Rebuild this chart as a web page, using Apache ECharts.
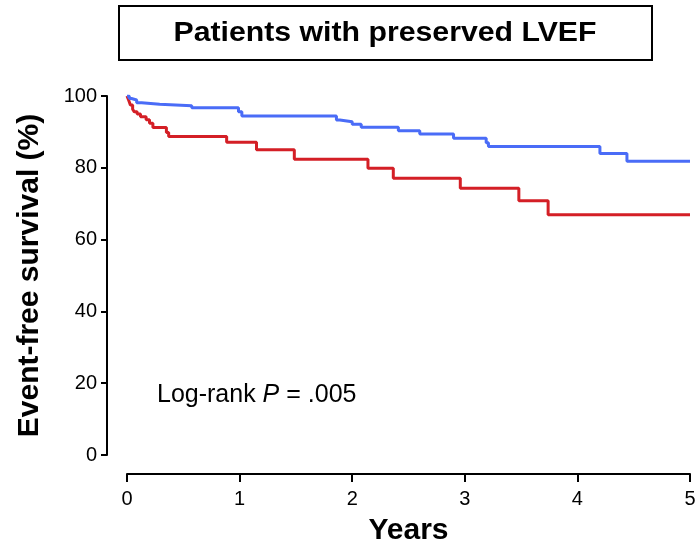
<!DOCTYPE html>
<html>
<head>
<meta charset="utf-8">
<script src="https://cdn.jsdelivr.net/npm/echarts@6/dist/echarts.min.js"></script>
<style>
  html, body { margin: 0; padding: 0; background: #fff; }
  #chart { width: 697px; height: 546px; }
</style>
</head>
<body>
<div id="chart"></div>
<script>
// Kaplan-Meier event-free survival, patients with preserved LVEF
// Each pair is [years, survival %]; the value holds until the next time point.
const blueTimes  = [0, 0.02, 0.04, 0.086, 0.13, 0.29, 0.575, 0.99, 1.02, 1.86, 1.89, 2.0, 2.08, 2.41, 2.60, 2.90, 3.19, 3.21, 4.20, 4.44, 5.0];
const blueValues = [100, 99.3, 98.9, 98.1, 97.7, 97.3, 96.7, 95.6, 94.4, 93.3, 92.8, 92.1, 91.3, 90.3, 89.4, 88.2, 87.0, 85.9, 84.0, 81.8, 81.8];

const redTimes  = [0, 0.015, 0.03, 0.05, 0.065, 0.09, 0.12, 0.17, 0.2, 0.23, 0.35, 0.37, 0.885, 1.15, 1.486, 2.14, 2.365, 2.96, 3.48, 3.74, 5.0];
const redValues = [100, 98.8, 97.5, 96.3, 95.6, 95.0, 94.2, 93.4, 92.4, 91.2, 89.8, 88.7, 87.1, 85.0, 82.4, 79.9, 77.1, 74.3, 70.8, 66.9, 66.9];

const xTicks = [0, 1, 2, 3, 4, 5];
const yTicks = [0, 20, 40, 60, 80, 100];

const titleText = 'Patients with preserved LVEF';
const xName = 'Years';
const yName = 'Event-free survival (%)';

const pair = (ts, vs) => ts.map((t, i) => [t, vs[i]]);
const FONT = '"Liberation Sans", Arial, sans-serif';
const X_MIN = xTicks[0], X_MAX = xTicks[xTicks.length - 1];
const Y_MIN = yTicks[0], Y_MAX = yTicks[yTicks.length - 1];

const hiddenX = (gridIndex) => ({ type: 'value', gridIndex, min: X_MIN, max: X_MAX, show: false });
const hiddenY = (gridIndex) => ({ type: 'value', gridIndex, min: Y_MIN, max: Y_MAX, show: false });

const chart = echarts.init(document.getElementById('chart'), null, { renderer: 'canvas' });

chart.setOption({
  backgroundColor: '#ffffff',
  animation: false,
  // grid 0: plotting area; grid 1 carries the detached x axis, grid 2 the detached y axis
  grid: [
    { left: 127, right: 7, top: 96, bottom: 91, outerBoundsMode: 'none', containLabel: false },
    { left: 127, right: 7, top: 96, bottom: 72, outerBoundsMode: 'none', containLabel: false },
    { left: 107, right: 7, top: 96, bottom: 91, outerBoundsMode: 'none', containLabel: false }
  ],
  xAxis: [
    hiddenX(0),
    {
      type: 'value', gridIndex: 1,
      min: X_MIN, max: X_MAX, interval: 1,
      name: xName,
      nameLocation: 'middle',
      nameGap: 42,
      nameTextStyle: { fontFamily: FONT, fontWeight: 'bold', fontSize: 30, color: '#000' },
      axisLine: { show: true, lineStyle: { color: '#000', width: 2 } },
      axisTick: { show: true, length: 8, lineStyle: { color: '#000', width: 2 } },
      axisLabel: { margin: 15, fontFamily: FONT, fontSize: 20, color: '#000',
                   formatter: v => xTicks.includes(v) ? String(v) : '' },
      splitLine: { show: false }
    },
    hiddenX(2)
  ],
  yAxis: [
    hiddenY(0),
    hiddenY(1),
    {
      type: 'value', gridIndex: 2,
      min: Y_MIN, max: Y_MAX, interval: 20,
      name: yName,
      nameLocation: 'middle',
      nameGap: 62,
      nameTextStyle: { fontFamily: FONT, fontWeight: 'bold', fontSize: 30, color: '#000' },
      axisLine: { show: true, lineStyle: { color: '#000', width: 2 } },
      axisTick: { show: true, length: 6, lineStyle: { color: '#000', width: 2 } },
      axisLabel: { margin: 10, fontFamily: FONT, fontSize: 20, color: '#000',
                   formatter: v => yTicks.includes(v) ? String(v) : '' },
      splitLine: { show: false }
    }
  ],
  series: [
    {
      name: 'Red group',
      type: 'line',
      xAxisIndex: 0, yAxisIndex: 0,
      step: 'end',
      showSymbol: false,
      data: pair(redTimes, redValues),
      lineStyle: { color: '#d41f26', width: 3 },
      z: 3
    },
    {
      name: 'Blue group',
      type: 'line',
      xAxisIndex: 0, yAxisIndex: 0,
      step: 'end',
      showSymbol: false,
      data: pair(blueTimes, blueValues),
      lineStyle: { color: '#4a6cf7', width: 3 },
      z: 4
    }
  ],
  graphic: [
    {
      type: 'rect',
      shape: { x: 119, y: 6, width: 533, height: 54 },
      style: { fill: '#fff', stroke: '#000', lineWidth: 2 }
    },
    {
      type: 'text',
      x: 385, y: 33,
      scaleX: 1.08,
      style: {
        text: titleText,
        fontFamily: FONT, fontWeight: 'bold', fontSize: 28,
        fill: '#000', align: 'center', verticalAlign: 'middle'
      }
    },
    {
      type: 'text',
      x: 157, y: 395,
      style: {
        text: '{n|Log-rank }{p|P}{n| = .005}',
        rich: {
          n: { fontFamily: FONT, fontSize: 25, fill: '#000' },
          p: { fontFamily: FONT, fontSize: 25, fontStyle: 'italic', fill: '#000' }
        },
        align: 'left', verticalAlign: 'middle'
      }
    }
  ]
});
</script>
</body>
</html>
